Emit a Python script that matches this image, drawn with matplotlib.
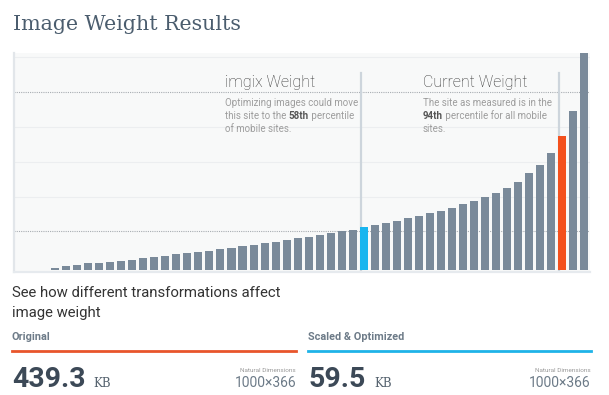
import matplotlib
matplotlib.use('Agg')
import matplotlib.pyplot as plt
from matplotlib.lines import Line2D

# bar heights (percentile distribution of page weight)
heights = [1.5, 3.2, 4.5, 6.2, 6.8, 7.5, 8.5, 9.8, 11.2, 12.2, 13.5, 15.2, 16.5, 17.2,
           18.8, 20.2, 21.8, 23.2, 24.5, 26.5, 27.8, 29.2, 31.2, 32.5, 34.5, 36.2, 38.2,
           39.8, 42.2, 44.2, 46.2, 48.2, 51.2, 53.8, 56.5, 58.8, 61.8, 65.5, 68.5, 72.8,
           76.5, 81.8, 87.2, 96.2, 104.5, 116.2, 133.5, 158.8, 225.0]
imgix_idx = 28
current_idx = 46
grid_dotted = [38.5, 177.2]
grid_solid = [72.8, 107.2, 142.2, 212.2]
marker_top = 196.8

orig_kb = '439.3'
opt_kb = '59.5'
dims = '1000\u00d7366'

GRAY = '#7a8a9a'
ORANGE = '#f4511e'
BLUE = '#19b5ef'

W, H = 609, 395
fig = plt.figure(figsize=(W / 100, H / 100), dpi=100)
fig.patch.set_facecolor('white')


def px(x, y):
    return x / W, 1 - y / H


ax = fig.add_axes([14 / W, 1 - 272 / H, (590 - 14) / W, (272 - 52.7) / H])
ax.set_facecolor('#f8f9f9')
ax.set_xlim(-3.74, 48.54)
ax.set_ylim(-2.5, 216.8)

colors = [GRAY] * len(heights)
colors[imgix_idx] = BLUE
colors[current_idx] = ORANGE
ax.bar(range(len(heights)), heights, width=0.73, color=colors, zorder=3)

for g in grid_dotted:
    ax.axhline(g, color='#a8adb2', lw=0.8, ls=(0, (1, 1)), zorder=1)
for g in grid_solid:
    ax.axhline(g, color='#eceef0', lw=0.8, zorder=1)

for i in (imgix_idx, current_idx):
    ax.plot([i - 0.25, i - 0.25], [0, marker_top], color='#cdd5dc', lw=1.6, zorder=2)

for s in ('top', 'right'):
    ax.spines[s].set_visible(False)
ax.spines['left'].set_color('#e2e6ea')
ax.spines['left'].set_linewidth(1.6)
ax.spines['bottom'].set_color('#e6eaee')
ax.spines['bottom'].set_linewidth(1.6)
ax.set_xticks([])
ax.set_yticks([])

renderer = fig.canvas.get_renderer()


def seg_line(x, y, parts, size):
    # draw text pieces one after the other on one line
    for txt, weight, col in parts:
        t = fig.text(*px(x, y), txt, fontsize=size, family='Roboto', fontweight=weight,
                     color=col, va='baseline', ha='left')
        x += t.get_window_extent(renderer).width


# title
fig.text(*px(13, 30.5), 'Image Weight Results', family='DejaVu Serif', fontsize=14.8,
         color='#4b5d6e', va='baseline')

# annotations in the chart
fig.text(*px(225, 87.5), 'imgix Weight', family='Roboto', fontweight='light',
         fontsize=11.5, color='#333333', va='baseline')
fig.text(*px(423, 87.5), 'Current Weight', family='Roboto', fontweight='light',
         fontsize=11.5, color='#333333', va='baseline')

LG = '#9d9d9d'
DK = '#555555'
FS = 7.0
seg_line(225, 106, [('Optimizing images could move', 'normal', LG)], FS)
seg_line(225, 119, [('this site to the ', 'normal', LG), ('58th', 'bold', DK),
                    (' percentile', 'normal', LG)], FS)
seg_line(225, 132, [('of mobile sites.', 'normal', LG)], FS)
seg_line(423, 106, [('The site as measured is in the', 'normal', LG)], FS)
seg_line(423, 119, [('94th', 'bold', DK), (' percentile for all mobile', 'normal', LG)], FS)
seg_line(423, 132, [('sites.', 'normal', LG)], FS)

# lower panel
fig.text(*px(12, 297), 'See how different transformations affect', family='Roboto',
         fontsize=10.7, color='#333333', va='baseline')
fig.text(*px(12, 317), 'image weight', family='Roboto', fontsize=10.7,
         color='#333333', va='baseline')

fig.text(*px(12, 340.5), 'Original', family='Roboto', fontweight='bold', fontsize=7.8,
         color='#6d7b88', va='baseline')
fig.text(*px(308, 340.5), 'Scaled & Optimized', family='Roboto', fontweight='bold',
         fontsize=7.8, color='#6d7b88', va='baseline')
fig.add_artist(Line2D([12 / W, 296 / W], [1 - 351 / H] * 2, color='#e8552b', lw=2))
fig.add_artist(Line2D([308 / W, 591 / W], [1 - 351 / H] * 2, color='#1fb3e8', lw=2))

for x0, val, right in ((12, orig_kb, 296), (309, opt_kb, 591)):
    t = fig.text(*px(x0, 387), val, family='Roboto', fontweight='bold', fontsize=20.5,
                 color='#3c4957', va='baseline')
    wv = t.get_window_extent(renderer).width
    fig.text(*px(x0 + wv + 8, 387), 'KB', family='DejaVu Serif', fontsize=8.5,
             color='#56636f', va='baseline')
    fig.text(*px(right, 371.5), 'Natural Dimensions', family='Roboto', fontsize=4.6,
             color='#9a9a9a', va='baseline', ha='right')
    fig.text(*px(right, 387), dims, family='Roboto', fontsize=10, color='#6d7b88',
             va='baseline', ha='right')

fig.savefig('out.png', dpi=100, facecolor='white')
